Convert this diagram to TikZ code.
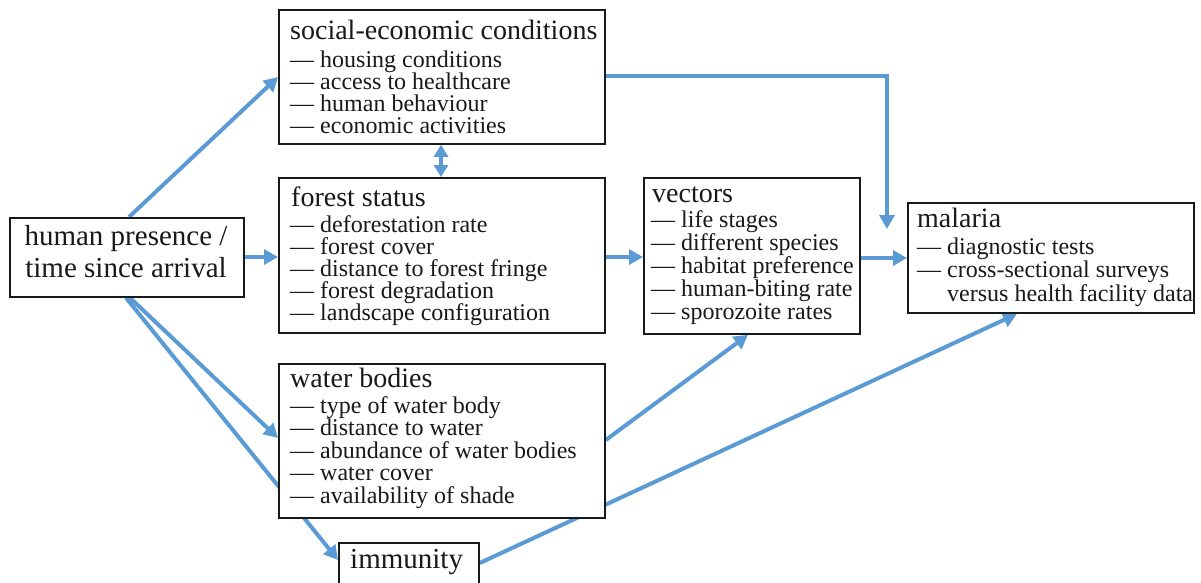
\documentclass[tikz,border=0pt]{standalone}
\usepackage{fontspec}
\setmainfont{Liberation Serif}
\usetikzlibrary{arrows.meta}
\pgfdeclarelayer{bg}
\pgfsetlayers{bg,main}
\definecolor{arr}{RGB}{91,155,213}
\definecolor{ink}{RGB}{25,25,25}
\newcommand\ttlfont{\fontsize{28}{30}\selectfont}
\newcommand\itmfont{\fontsize{24}{22}\selectfont}
\newcommand\biglabel{\fontsize{29}{32}\selectfont}
\newcommand\itemstack[2]{\vtop{\itmfont\baselineskip=#1pt\lineskiplimit=-100pt\lineskip=0pt #2}}
\newcommand\centerstack[1]{\vtop{\biglabel\baselineskip=32pt\lineskiplimit=-100pt\lineskip=0pt\halign{\hfil##\hfil\cr#1}}}
\tikzset{
  box/.style={draw=ink, line width=1.8pt, fill=white, inner sep=0pt, anchor=north west},
  txt/.style={anchor=base west, inner sep=0pt, text=ink},
  conn/.style={draw=arr, line width=4pt, -{Triangle[length=14pt,width=15pt]}},
  dblconn/.style={draw=arr, line width=4pt, {Triangle[length=12pt,width=14pt]}-{Triangle[length=12pt,width=14pt]}}
}
\begin{document}
\begin{tikzpicture}[x=1pt,y=-1pt]
\useasboundingbox (0,0) rectangle (1201,582);
% boxes
\node[box, minimum width=234pt, minimum height=79pt] (human) at (9,217) {};
\node[box, minimum width=326pt, minimum height=134pt] (social) at (278,9) {};
\node[box, minimum width=326pt, minimum height=155pt] (forest) at (278,177) {};
\node[box, minimum width=326pt, minimum height=154pt] (water) at (278,363) {};
\node[box, minimum width=216pt, minimum height=156pt] (vectors) at (643,177) {};
\node[box, minimum width=286pt, minimum height=110pt] (malaria) at (907,202) {};
\node[box, minimum width=140pt, minimum height=60pt] (immunity) at (338,542) {};
% texts
\node[txt, anchor=base] (humantxt) at (126,245) {\centerstack{human presence /\cr time since arrival\cr}};
\node[txt] (socialttl) at (290,39) {\ttlfont social-economic conditions};
\node[txt] (socialitems) at (290,67) {\itemstack{22}{\hbox{— housing conditions}\hbox{— access to healthcare}\hbox{— human behaviour}\hbox{— economic activities}}};
\node[txt] (forestttl) at (291,206) {\ttlfont forest status};
\node[txt] (forestitems) at (290,232) {\itemstack{22}{\hbox{— deforestation rate}\hbox{— forest cover}\hbox{— distance to forest fringe}\hbox{— forest degradation}\hbox{— landscape configuration}}};
\node[txt] (waterttl) at (290,387) {\ttlfont water bodies};
\node[txt] (wateritems) at (290,413) {\itemstack{22.5}{\hbox{— type of water body}\hbox{— distance to water}\hbox{— abundance of water bodies}\hbox{— water cover}\hbox{— availability of shade}}};
\node[txt] (vectorsttl) at (652,202) {\ttlfont vectors};
\node[txt] (vectorsitems) at (651,227) {\itemstack{23}{\hbox{— life stages}\hbox{— different species}\hbox{— habitat preference}\hbox{— human-biting rate}\hbox{— sporozoite rates}}};
\node[txt] (malariattl) at (917,227) {\ttlfont malaria};
\node[txt] (malariaitems) at (917,254) {\itemstack{23.5}{\hbox{— diagnostic tests}\hbox{— cross-sectional surveys}\hbox{\phantom{— }versus health facility data}}};
\node[txt] (immunitytxt) at (350,568) {\biglabel immunity};
% connectors
\coordinate (socend) at (887,229);
\begin{pgfonlayer}{bg}
\draw[conn] (129,0 |- human.north) -- (social.west |- 0,77);
\draw[conn] (human.east |- 0,257) -- (forest.west |- 0,257);
\draw[conn] (130,0 |- human.south) -- (water.west |- 0,438);
\draw[conn] (126,0 |- human.south) -- (immunity.west |- 0,560);
\draw[dblconn] (441,0 |- social.south) -- (441,0 |- forest.north);
\draw[conn] (social.east |- 0,76) -| (socend);
\draw[conn] (forest.east |- 0,257) -- (vectors.west |- 0,257);
\draw[conn] (vectors.east |- 0,258) -- (malaria.west |- 0,258);
\draw[conn] (water.east |- 0,440) -- (748,0 |- vectors.south);
\draw[conn] (immunity.east |- 0,563) -- (1017,0 |- malaria.south);
\end{pgfonlayer}
\end{tikzpicture}
\end{document}
